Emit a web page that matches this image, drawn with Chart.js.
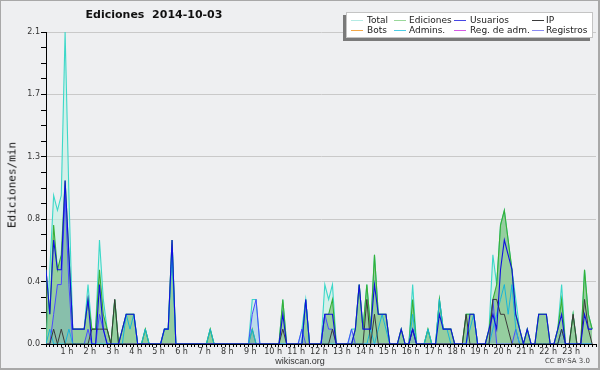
<!DOCTYPE html>
<html><head><meta charset="utf-8">
<script src="https://cdn.jsdelivr.net/npm/chart.js@4/dist/chart.umd.min.js"></script>
<style>
html,body{margin:0;padding:0;background:#fff;}
#wrap{position:relative;width:600px;height:370px;background:#eeeff1;overflow:hidden;font-family:"DejaVu Sans",sans-serif;}
#c{position:absolute;left:0;top:0;}
#frame{position:absolute;left:0;top:0;width:600px;height:370px;box-sizing:border-box;border:1px solid #a8a8a8;border-right-width:2px;border-bottom-width:2px;pointer-events:none;}
#title{position:absolute;left:0;width:308px;top:8px;text-align:center;font:bold 11px "DejaVu Sans";color:#111;white-space:pre;}
#ytitle{position:absolute;left:12px;top:185px;transform:translate(-50%,-50%) rotate(-90deg);font:11px "DejaVu Sans Mono";white-space:nowrap;color:#111;}
#legend{position:absolute;left:346px;top:12px;width:247px;height:26px;background:#fff;border:1px solid #c4c4c4;box-sizing:border-box;box-shadow:-3px 3px 0 #7a7a7a;}
.li{position:absolute;font:9px "DejaVu Sans";color:#222;white-space:nowrap;line-height:10px;}
.ll{position:absolute;height:1px;width:12px;}
#site{position:absolute;left:0;width:600px;top:356px;text-align:center;font:9px "Liberation Sans";color:#333;}
#lic{position:absolute;right:10px;top:357px;font:7px "DejaVu Sans";color:#444;}
</style></head>
<body>
<div id="wrap">
<canvas id="c" width="600" height="370"></canvas>
<div id="title">Ediciones  2014-10-03</div>
<div id="ytitle">Ediciones/min</div>
<div id="legend"></div>
<div id="site">wikiscan.org</div>
<div id="lic">CC BY-SA 3.0</div>
<div id="frame"></div>
</div>
<script>
// 10-minute slots, values in edits per minute
const total = [
0,0.5,1.0,0.9,1.0,2.1,1.0,0.1,0.1,0.1,0.1,0.4,
0.1,0.1,0.7,0.3,0.1,0,0.3,0,0.1,0.2,0.2,0.2,
0,0,0.1,0,0,0,0,0.1,0.1,0.7,0,0,
0,0,0,0,0,0,0,0.1,0,0,0,0,
0,0,0,0,0,0,0.3,0.3,0,0,0,0,
0,0,0.3,0,0,0,0,0.1,0.3,0,0,0,
0,0.4,0.3,0.4,0,0,0,0,0.1,0.1,0.4,0.1,
0.4,0.1,0.6,0.2,0.2,0.2,0,0,0,0.1,0,0,
0.4,0,0,0,0.1,0,0,0.3,0.1,0.1,0.1,0,
0,0,0.2,0.2,0.2,0,0,0,0.1,0.6,0.4,0.8,
0.9,0.7,0.5,0.3,0.1,0,0.1,0,0,0.2,0.2,0.2,
0,0,0.1,0.4,0,0,0.2,0,0,0.5,0.2,0.1];
const ediciones = [
0.5,0.2,0.8,0.5,0.6,1.1,0.6,0.1,0.1,0.1,0.1,0.3,
0.1,0.1,0.5,0.2,0.1,0,0.3,0,0.1,0.2,0.2,0.2,
0,0,0.1,0,0,0,0,0.1,0.1,0.7,0,0,
0,0,0,0,0,0,0,0.1,0,0,0,0,
0,0,0,0,0,0,0.1,0,0,0,0,0,
0,0,0.3,0,0,0,0,0,0.3,0,0,0,
0,0.2,0.2,0.3,0,0,0,0,0,0.1,0.4,0.1,
0.4,0.1,0.6,0.2,0.2,0.2,0,0,0,0.1,0,0,
0.3,0,0,0,0.1,0,0,0.3,0.1,0.1,0.1,0,
0,0,0.2,0.2,0.2,0,0,0,0.1,0.3,0.4,0.8,
0.9,0.7,0.5,0.2,0.1,0,0.1,0,0,0.2,0.2,0.2,
0,0,0.1,0.3,0,0,0.2,0,0,0.5,0.2,0.1];
const usuarios = [
0.5,0.2,0.7,0.5,0.5,1.1,0.6,0.1,0.1,0.1,0.1,0.3,
0,0,0.4,0.1,0,0,0,0,0.1,0.2,0.2,0.2,
0,0,0,0,0,0,0,0.1,0.1,0.7,0,0,
0,0,0,0,0,0,0,0,0,0,0,0,
0,0,0,0,0,0,0,0,0,0,0,0,
0,0,0.2,0,0,0,0,0,0.3,0,0,0,
0,0.2,0.2,0.2,0,0,0,0,0,0.1,0.4,0.1,
0.1,0.1,0.4,0.2,0.2,0.2,0,0,0,0.1,0,0,
0.1,0,0,0,0,0,0,0.2,0.1,0.1,0.1,0,
0,0,0,0.2,0.2,0,0,0,0.1,0.2,0.1,0.5,
0.7,0.6,0.5,0.2,0.1,0,0.1,0,0,0.2,0.2,0.2,
0,0,0.1,0.2,0,0,0,0,0,0.2,0.1,0.1];
const ip = [
0,0,0.1,0,0.1,0,0,0,0,0,0,0,
0.1,0.1,0.1,0.1,0.1,0,0.3,0,0,0,0,0,
0,0,0,0,0,0,0,0,0,0,0,0,
0,0,0,0,0,0,0,0,0,0,0,0,
0,0,0,0,0,0,0,0,0,0,0,0,
0,0,0.1,0,0,0,0,0,0,0,0,0,
0,0,0,0.1,0,0,0,0,0,0,0,0,
0.3,0,0.2,0,0,0,0,0,0,0,0,0,
0.1,0,0,0,0,0,0,0,0,0,0,0,
0,0,0.2,0,0,0,0,0,0,0.3,0.3,0.2,
0.2,0.1,0,0,0,0,0,0,0,0,0,0,
0,0,0,0.1,0,0,0.2,0,0,0.3,0.1,0];
const admins = [
0,0.1,0,0,0,0,0.1,0,0,0,0,0,
0,0,0,0,0,0,0,0,0,0.2,0.1,0.2,
0,0,0.1,0,0,0,0,0.1,0.1,0.6,0,0,
0,0,0,0,0,0,0,0.1,0,0,0,0,
0,0,0,0,0,0,0.1,0,0,0,0,0,
0,0,0,0,0,0,0,0,0.3,0,0,0,
0,0,0,0,0,0,0,0,0,0,0,0,
0,0.1,0,0.1,0.2,0.1,0,0,0,0,0,0,
0.2,0,0,0,0.1,0,0,0.3,0.1,0.1,0,0,
0,0,0,0.1,0.2,0,0,0,0,0.1,0.2,0.3,
0.4,0.2,0.4,0.1,0,0,0,0,0,0,0,0,
0,0,0,0.1,0,0,0,0,0,0,0,0];
const registros = [
0,0,0.2,0.4,0.4,1.0,0.4,0,0,0,0,0.1,
0,0,0.2,0.1,0,0,0,0,0,0,0,0,
0,0,0,0,0,0,0,0,0,0,0,0,
0,0,0,0,0,0,0,0,0,0,0,0,
0,0,0,0,0,0,0.2,0.3,0,0,0,0,
0,0,0,0,0,0,0,0.1,0,0,0,0,
0,0.2,0.1,0.1,0,0,0,0,0.1,0,0,0,
0,0,0,0,0,0,0,0,0,0,0,0,
0.1,0,0,0,0,0,0,0,0,0,0,0,
0,0,0,0,0,0,0,0,0,0.3,0,0,
0,0,0,0.1,0,0,0,0,0,0,0,0,
0,0,0,0.1,0,0,0,0,0,0,0,0];
const hourLabels = ['1 h','2 h','3 h','4 h','5 h','6 h','7 h','8 h','9 h','10 h','11 h','12 h',
  '13 h','14 h','15 h','16 h','17 h','18 h','19 h','20 h','21 h','22 h','23 h'];
const yTickLabels = ['0.0','0.4','0.8','1.3','1.7','2.1'];
const legendNames = ['Total','Ediciones','Usuarios','IP','Bots','Admins.','Reg. de adm.','Registros'];
const legendColors = ['#b4ebe4','#9ad89a','#4646e4','#3a3a3a','#f4a848','#4ccce4','#d45ae4','#8a8af2'];

// legend (HTML)
const lg = document.getElementById('legend');
const colLine = [4,47,107,185], colText = [20,62,123,199], rowTop = [2,12];
legendNames.forEach((n,i)=>{
  const c = i%4, r = Math.floor(i/4);
  const l = document.createElement('div'); l.className='ll';
  l.style.left = colLine[c]+'px'; l.style.top = (rowTop[r]+5)+'px'; l.style.background = legendColors[i];
  lg.appendChild(l);
  const t = document.createElement('div'); t.className='li'; t.textContent = n;
  t.style.left = colText[c]+'px'; t.style.top = rowTop[r]+'px';
  lg.appendChild(t);
});

const pts = arr => arr.map((v,i)=>({x:i, y:v}));
const ds = (label, arr, color, width, fill, bg) => ({
  label, data: pts(arr), borderColor: color, borderWidth: width,
  fill: fill ? 'origin' : false, backgroundColor: bg || 'transparent',
  pointRadius: 0, tension: 0
});

new Chart(document.getElementById('c'), {
  type: 'line',
  data: { datasets: [
    ds('Usuarios', usuarios, '#1010e0', 1.1, false),
    ds('IP', ip, '#3a3a3a', 1, false),
    ds('Admins.', admins, '#18b4d8', 1, false),
    ds('Registros', registros, '#4a4aff', 1, true, 'rgba(80,120,230,0.18)'),
    ds('Ediciones', ediciones, '#36b036', 1.1, true, 'rgba(100,180,100,0.56)'),
    ds('Total', total, '#3cd8c8', 1.1, true, 'rgba(195,240,228,0.6)')
  ]},
  options: {
    responsive: false, animation: false, events: [],
    layout: { padding: { top: 32, right: 4, left: 0, bottom: 0 } },
    plugins: { legend: { display: false }, tooltip: { enabled: false } },
    scales: {
      x: {
        type: 'linear', min: 0, max: 144, z: 1,
        afterFit: s => { s.height = 26; },
        border: { display: true, color: '#000', width: 1 },
        grid: { drawOnChartArea: false, tickColor: '#000', tickLength: 3 },
        ticks: { stepSize: 1, autoSkip: false, maxRotation: 0, minRotation: 0, padding: 0, labelOffset: -2,
          color: '#333', font: { family: 'DejaVu Sans', size: 8 },
          callback: v => (v % 6 === 0 && v > 0 && v < 144) ? hourLabels[v/6 - 1] : '' }
      },
      y: {
        min: 0, max: 2.1,
        afterFit: s => { s.width = 46; },
        border: { display: true, color: '#000', width: 1 },
        grid: { color: ctx => (ctx.index % 4 === 0 && ctx.index > 0) ? '#c9c9c9' : 'rgba(0,0,0,0)',
                tickColor: '#000', tickLength: 5 },
        ticks: { stepSize: 0.105, autoSkip: false, padding: 1, color: '#333',
          font: { family: 'DejaVu Sans', size: 8 },
          callback: (v, i) => (i % 4 === 0) ? yTickLabels[i/4] : '' }
      }
    }
  }
});
</script>
</body></html>
